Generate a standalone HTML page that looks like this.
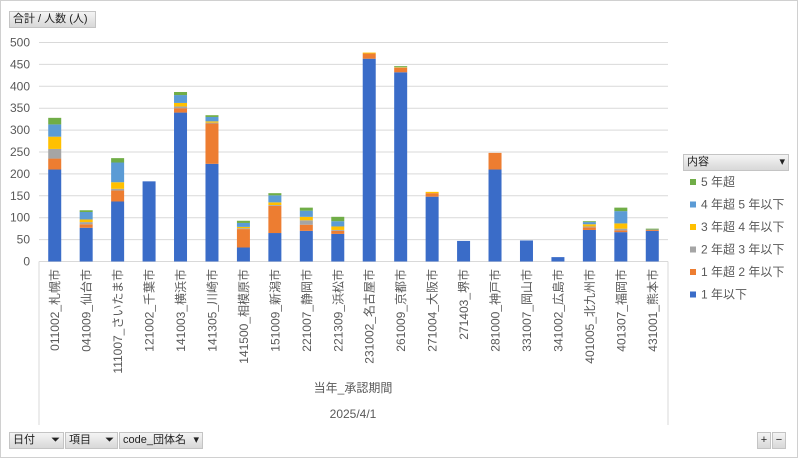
<!DOCTYPE html>
<html><head><meta charset="utf-8"><style>
body{margin:0;background:#fff;font-family:"Liberation Sans","Noto Sans CJK JP",sans-serif;}
#wrap{position:relative;width:796px;height:456px;border:1px solid #d0d0d0;overflow:hidden;}
.btn{position:absolute;background:linear-gradient(#f4f4f4,#d8d8d8);border:1px solid #c4c4c4;font-size:11px;color:#222;line-height:15px;padding:0 3px;box-sizing:border-box;}
</style></head><body>
<div id="wrap">
<div class="btn" style="left:8px;top:10px;width:87px;height:17px">合計 / 人数 (人)</div>
<svg id="chart" width="796" height="456" style="position:absolute;left:0;top:0"></svg>
<div class="btn" style="left:8px;top:431px;width:55px;height:17px">日付 <span style="float:right">⏷</span></div>
<div class="btn" style="left:64px;top:431px;width:53px;height:17px">項目 <span style="float:right">⏷</span></div>
<div class="btn" style="left:118px;top:431px;width:84px;height:17px">code_団体名 <span style="float:right">▾</span></div>
<div class="btn" style="left:682px;top:153px;width:106px;height:17px">内容<span style="float:right">▾</span></div>
<div class="btn" style="left:756px;top:431px;width:14px;height:17px;text-align:center;padding:0">+</div>
<div class="btn" style="left:771px;top:431px;width:14px;height:17px;text-align:center;padding:0">−</div>
</div>
<script>
const categories=["011002_札幌市","041009_仙台市","111007_さいたま市","121002_千葉市","141003_横浜市","141305_川崎市","141500_相模原市","151009_新潟市","221007_静岡市","221309_浜松市","231002_名古屋市","261009_京都市","271004_大阪市","271403_堺市","281000_神戸市","331007_岡山市","341002_広島市","401005_北九州市","401307_福岡市","431001_熊本市"];
const s1=[210,77,137,183,340,223,32,65,70,63,463,432,148,47,210,48,10,72,67,70];
const s2=[25,8,25,0,10,92,42,62,14,7,12,10,8,0,38,0,0,6,4,2];
const s3=[22,5,4,0,4,2,2,2,10,2,0,1,0,0,0,0,0,2,4,1];
const s4=[28,6,15,0,8,3,3,6,8,8,2,1,3,0,0,0,0,5,12,0];
const s5=[28,17,45,0,18,10,9,16,14,12,0,0,0,0,0,0,0,5,28,0];
const s6=[15,4,10,0,7,4,5,5,7,10,0,2,0,0,0,0,0,2,8,2];
const seriesNames=["1 年以下","1 年超 2 年以下","2 年超 3 年以下","3 年超 4 年以下","4 年超 5 年以下","5 年超"];
const yTicks=[0,50,100,150,200,250,300,350,400,450,500];
const colors=["#3a6cc8","#ed7d31","#a5a5a5","#ffc000","#5b9bd5","#70ad47"];
const series=[s1,s2,s3,s4,s5,s6];
const svg=document.getElementById('chart');const NS="http://www.w3.org/2000/svg";
const X0=38,X1=667,Y0=260.5,Y1=41.5;
const y=v=>Y0-(v/500)*(Y0-Y1);
const cw=(X1-X0)/categories.length;
const xc=i=>X0+cw*(i+0.5);
function mk(t,a){const e=document.createElementNS(NS,t);for(const k in a)e.setAttribute(k,a[k]);svg.appendChild(e);return e;}
yTicks.forEach(t=>{
 const l=mk('line',{x1:X0,x2:X1,y1:y(t),y2:y(t),stroke:'#d9d9d9','stroke-width':1});
 
 
 const tx=mk('text',{x:29,y:y(t)+4,'text-anchor':'end','font-size':12,fill:'#595959'});tx.textContent=t;
 
 
});
const ax=mk('line',{x1:X0,x2:X0,y1:Y0,y2:424,stroke:'#d9d9d9'});


mk('line',{x1:X1,x2:X1,y1:Y0,y2:424,stroke:'#d9d9d9'});
categories.forEach((c,i)=>{
 let base=0;
 series.forEach((s,k)=>{
  const v=s[i];if(v<=0)return;
  const r=mk('rect',{x:xc(i)-6.5,y:y(base+v),width:13,height:y(base)-y(base+v),fill:colors[k]});
  
  
  base+=v;
 });
 const t=mk('text',{transform:`translate(${xc(i)+4.5},268) rotate(-90)`,'text-anchor':'end','font-size':12,fill:'#595959'});
 t.textContent=c;
 
 
});
const at=mk('text',{x:352,y:391,'text-anchor':'middle','font-size':12,fill:'#595959'});at.textContent='当年_承認期間';


const dt=mk('text',{x:352,y:417,'text-anchor':'middle','font-size':12,fill:'#595959'});dt.textContent='2025/4/1';


for(let k=5;k>=0;k--){
 const yy=182+(5-k)*22.5;
 const r=mk('rect',{x:689,y:yy-4,width:6,height:6,fill:colors[k]});
 
 
 const t=mk('text',{x:700,y:yy+3,'font-size':12,fill:'#595959'});t.textContent=seriesNames[k];
 
 
}
</script>
</body></html>
